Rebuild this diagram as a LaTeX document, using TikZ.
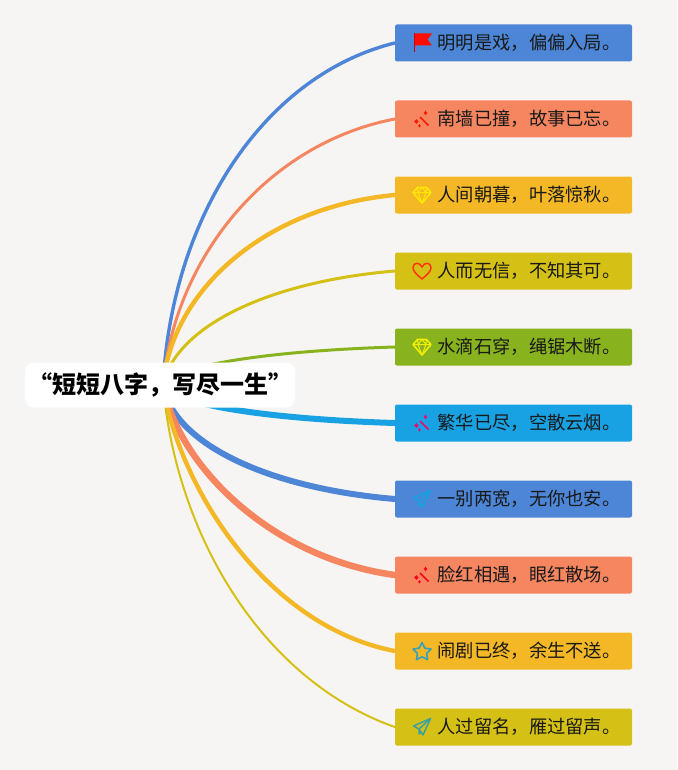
\documentclass[tikz,border=0pt]{standalone}
\usepackage{fontspec}
\setmainfont{Noto Sans CJK SC}
\usetikzlibrary{shapes.geometric}
\definecolor{bgc}{HTML}{F7F5F4}
\definecolor{cblue}{HTML}{4D86D6}
\definecolor{csalmon}{HTML}{F58660}
\definecolor{corange}{HTML}{F4B826}
\definecolor{colive}{HTML}{D5C115}
\definecolor{cgreen}{HTML}{88B31F}
\definecolor{ccyan}{HTML}{18A2E3}
\definecolor{cstar}{HTML}{38A0B8}
\definecolor{cplane}{HTML}{3AA0A0}
\newcommand{\leaftext}[1]{\hspace*{31pt}\raisebox{-1pt}{#1}}
\tikzset{
  x=1pt,y=-1pt,
  leaf/.style={fill=#1,rounded corners=2pt,minimum width=237pt,minimum height=37pt,inner sep=0pt,font=\fontsize{18.3}{18.3}\selectfont,text=black!90},
  root/.style={fill=white,rounded corners=9pt,minimum width=270pt,minimum height=45pt,inner sep=0pt,font=\fontsize{24}{24}\selectfont\bfseries},
  link/.style={line cap=round},
}
% wand icon
\newcommand{\iconwand}[2]{\begin{scope}[shift={(422,#1)},#2]
 \draw[line width=1.7pt] (-2,-2)--(6.5,6.5);
 \fill (-8,2.5) -- (-5.5,0.2) -- (-3.5,2.5) -- (-5.5,5)--cycle;
 \fill (3.5,-8.5)--(4.3,-7)--(5.5,-6)--(4.3,-5)--(3.5,-3.5)--(2.7,-5)--(1.5,-6)--(2.7,-7)--cycle;
 \fill (-2.5,5) -- (-1.2,6.8) -- (-2.5,8.6) -- (-3.8,6.8) --cycle;
 \end{scope}}
\newcommand{\icongem}[2]{\begin{scope}[shift={(422,#1)},#2,line join=round]
 \draw[line width=1.6pt] (-4.5,-7.5)--(4.5,-7.5)--(9,-2.5)--(0,8)--(-9,-2.5)--cycle;
 \draw[line width=1pt] (-9,-2.5)--(9,-2.5) (-4,-2.5)--(0,8)--(4,-2.5) (-4.5,-7.5)--(-4,-2.5)--(0,-7.5)--(4,-2.5)--(4.5,-7.5);
 \end{scope}}
\newcommand{\iconplane}[2]{\begin{scope}[shift={(422,#1)},#2,line join=round]
 \draw[line width=1.5pt] (8.5,-8.5)--(-8.5,-1)--(-3,2)--(1,8)--cycle;
 \draw[line width=1.5pt] (8.5,-8.5)--(-3,2)--(-3,7)--(-0.5,4.5);
 \end{scope}}
\begin{document}
\begin{tikzpicture}
\useasboundingbox (0,0) rectangle (677,770);
\fill[bgc] (0,0) rectangle (677,770);
\coordinate (hub) at (163,385);
\node[leaf=cblue]   (n1)  at (513.5,43)  {\leaftext{明明是戏，偏偏入局。}};
\node[leaf=csalmon] (n2)  at (513.5,119) {\leaftext{南墙已撞，故事已忘。}};
\node[leaf=corange] (n3)  at (513.5,195) {\leaftext{人间朝暮，叶落惊秋。}};
\node[leaf=colive]  (n4)  at (513.5,271) {\leaftext{人而无信，不知其可。}};
\node[leaf=cgreen]  (n5)  at (513.5,347) {\leaftext{水滴石穿，绳锯木断。}};
\node[leaf=ccyan]   (n6)  at (513.5,423) {\leaftext{繁华已尽，空散云烟。}};
\node[leaf=cblue]   (n7)  at (513.5,499) {\leaftext{一别两宽，无你也安。}};
\node[leaf=csalmon] (n8)  at (513.5,575) {\leaftext{脸红相遇，眼红散场。}};
\node[leaf=corange] (n9)  at (513.5,651) {\leaftext{闹剧已终，余生不送。}};
\node[leaf=colive]  (n10) at (513.5,727) {\leaftext{人过留名，雁过留声。}};
\draw[link,cblue,line width=3.4pt]     (hub) .. controls (172,215) and (265,75)  .. (n1.west);
\draw[link,csalmon,line width=3pt]     (hub) .. controls (174,260) and (265,144) .. (n2.west);
\draw[link,corange,line width=4.4pt]   (hub) .. controls (172,290) and (265,207) .. (n3.west);
\draw[link,colive,line width=3pt]      (hub) .. controls (175,328) and (265,282) .. (n4.west);
\draw[link,cgreen,line width=3pt]      (hub) .. controls (172,366) and (265,351) .. (n5.west);
\draw[link,ccyan,line width=6pt]       (hub) .. controls (172,404) and (265,419) .. (n6.west);
\draw[link,cblue,line width=6pt]       (hub) .. controls (172,442) and (265,488) .. (n7.west);
\draw[link,csalmon,line width=6.5pt]   (hub) .. controls (176,460) and (265,557) .. (n8.west);
\draw[link,corange,line width=4.4pt]   (hub) .. controls (178,485) and (265,626) .. (n9.west);
\draw[link,colive,line width=2pt]      (hub) .. controls (176,535) and (262,680) .. (n10.west);
\node[root] (r) at (160,385) {\raisebox{-1.5pt}{“短短八字，写尽一生”}};
% icons
\begin{scope}[shift={(422,43)}]
 \fill[red!90!orange] (-8,-9.5)--(10,-9.5)--(5.5,-3.5)--(10,2.5)--(-8,2.5)--cycle;
 \draw[red!80!black,line width=1pt] (-8,-9.5)--(-8,9.5);
\end{scope}
\iconwand{119}{color=red!80!orange,fill=red!80!orange}
\icongem{195}{color=yellow!90!orange}
\begin{scope}[shift={(422,271)}]
 \draw[color=red!60!orange,line width=1.5pt,line join=round] (0,8) .. controls (-6,3) and (-9,0) .. (-9,-3.5) .. controls (-9,-9) and (-2,-9) .. (0,-4) .. controls (2,-9) and (9,-9) .. (9,-3.5) .. controls (9,0) and (6,3) .. (0,8) -- cycle;
\end{scope}
\icongem{347}{color=yellow!95!green}
\iconwand{423}{color=magenta!70!red,fill=magenta!70!red}
\iconplane{499}{color=ccyan}
\iconwand{575}{color=red!90!magenta,fill=red!90!magenta}
\begin{scope}[shift={(422,652)}]
 \draw[color=cstar,line width=1.6pt,line join=round] (-90:9.5)--(-54:4.8)--(-18:9.5)--(18:4.8)--(54:9.5)--(90:4.8)--(126:9.5)--(162:4.8)--(198:9.5)--(234:4.8)--cycle;
\end{scope}
\iconplane{727}{color=cplane}
\end{tikzpicture}
\end{document}
